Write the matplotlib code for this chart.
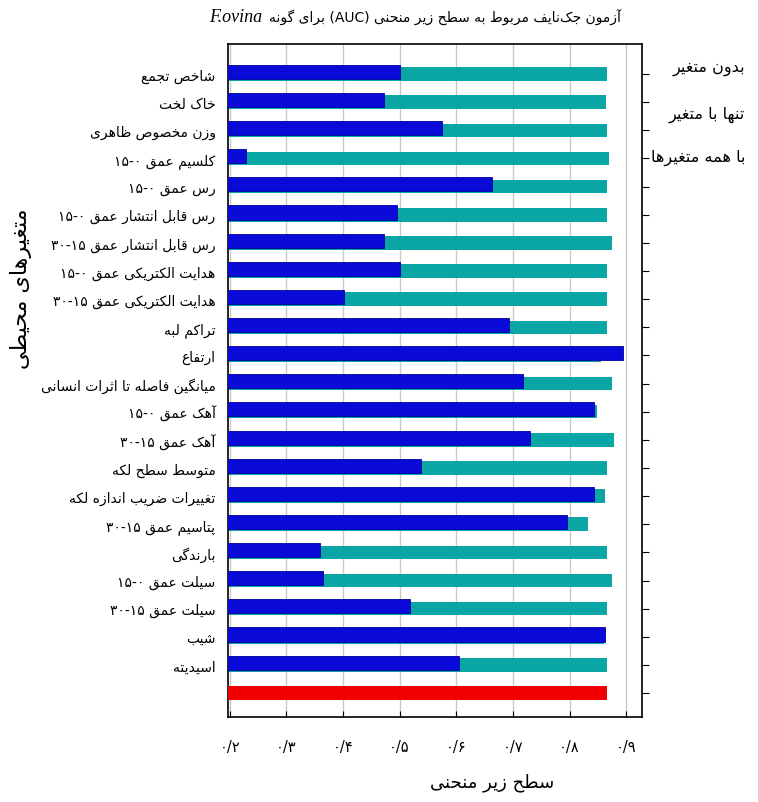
import matplotlib
matplotlib.use('Agg')
import matplotlib.pyplot as plt
import numpy as np
from matplotlib.offsetbox import TextArea, HPacker, AnchoredOffsetbox

# --- minimal Persian shaping + RTL ordering (matplotlib has no bidi support) ---
DUAL = {'ئ': 0xFE89, 'ب': 0xFE8F, 'ت': 0xFE95, 'ث': 0xFE99, 'ج': 0xFE9D, 'ح': 0xFEA1,
        'خ': 0xFEA5, 'س': 0xFEB1, 'ش': 0xFEB5, 'ص': 0xFEB9, 'ض': 0xFEBD, 'ط': 0xFEC1,
        'ظ': 0xFEC5, 'ع': 0xFEC9, 'غ': 0xFECD, 'ف': 0xFED1, 'ق': 0xFED5, 'ك': 0xFED9,
        'ل': 0xFEDD, 'م': 0xFEE1, 'ن': 0xFEE5, 'ه': 0xFEE9, 'ي': 0xFEF1, 'پ': 0xFB56,
        'چ': 0xFB7A, 'ک': 0xFB8E, 'گ': 0xFB92, 'ی': 0xFBFC}
RIGHT = {'آ': 0xFE81, 'أ': 0xFE83, 'ؤ': 0xFE85, 'إ': 0xFE87, 'ا': 0xFE8D, 'ة': 0xFE93,
         'د': 0xFEA9, 'ذ': 0xFEAB, 'ر': 0xFEAD, 'ز': 0xFEAF, 'و': 0xFEED, 'ى': 0xFEEF,
         'ژ': 0xFB8A}
LAMALEF = {'ا': 0xFEFB, 'آ': 0xFEF5, 'أ': 0xFEF7, 'إ': 0xFEF9}


def shape(s):
    out = []
    i = 0
    while i < len(s):
        c = s[i]
        prev = s[i - 1] if i > 0 else ''
        nxt = s[i + 1] if i + 1 < len(s) else ''
        p = prev in DUAL
        if c == 'ل' and nxt in LAMALEF:
            out.append(chr(LAMALEF[nxt] + (1 if p else 0)))
            i += 2
            continue
        if c in DUAL or c in RIGHT:
            base = DUAL.get(c, RIGHT.get(c))
            q = c in DUAL and (nxt in DUAL or nxt in RIGHT)
            out.append(chr(base + (3 if p and q else 2 if q else 1 if p else 0)))
        elif c != '\u200c':
            out.append(c)
        i += 1
    return ''.join(out)


def is_ltr(ch):
    return (ch.isascii() and ch.isalnum()) or '\u06f0' <= ch <= '\u06f9'


def fa(s):
    s = shape(s)
    runs = []
    for k, ch in enumerate(s):
        if is_ltr(ch):
            d = 'L'
        elif ch == '.' and 0 < k < len(s) - 1 and is_ltr(s[k - 1]) and is_ltr(s[k + 1]):
            d = 'L'
        else:
            d = 'R'
        if runs and runs[-1][0] == d:
            runs[-1][1] += ch
        else:
            runs.append([d, ch])
    mirror = {'(': ')', ')': '('}
    res = ''
    for d, txt in reversed(runs):
        if d == 'R':
            txt = ''.join(mirror.get(c, c) for c in reversed(txt))
        res += txt
    return res


# --- data ---
labels = ['شاخص تجمع', 'خاک لخت', 'وزن مخصوص ظاهری', 'کلسیم عمق ۰-۱۵', 'رس عمق ۰-۱۵',
          'رس قابل انتشار عمق ۰-۱۵', 'رس قابل انتشار عمق ۱۵-۳۰', 'هدایت الکتریکی عمق ۰-۱۵',
          'هدایت الکتریکی عمق ۱۵-۳۰', 'تراکم لبه', 'ارتفاع', 'میانگین فاصله تا اثرات انسانی',
          'آهک عمق ۰-۱۵', 'آهک عمق ۱۵-۳۰', 'متوسط سطح لکه', 'تغییرات ضریب اندازه لکه',
          'پتاسیم عمق ۱۵-۳۰', 'بارندگی', 'سیلت عمق ۰-۱۵', 'سیلت عمق ۱۵-۳۰', 'شیب', 'اسیدیته']
without_var = [0.867, 0.865, 0.867, 0.869, 0.867, 0.867, 0.875, 0.867, 0.867, 0.867, 0.855,
               0.875, 0.848, 0.879, 0.867, 0.862, 0.832, 0.867, 0.875, 0.867, 0.860, 0.867]
only_var = [0.500, 0.473, 0.574, 0.228, 0.663, 0.495, 0.472, 0.500, 0.402, 0.693, 0.895,
            0.718, 0.843, 0.730, 0.538, 0.843, 0.795, 0.359, 0.365, 0.518, 0.862, 0.605]
all_vars = 0.867
xticks = [0.2, 0.3, 0.4, 0.5, 0.6, 0.7, 0.8, 0.9]
xtick_labels = ['۰/۲', '۰/۳', '۰/۴', '۰/۵', '۰/۶', '۰/۷', '۰/۸', '۰/۹']
legend_labels = ['بدون متغیر', 'تنها با متغیر', 'با همه متغیرها']

plt.rcParams['font.family'] = ['DejaVu Sans']

fig = plt.figure(figsize=(7.58, 8.03), dpi=100)
ax = fig.add_axes([0.3008, 0.1059, 0.5462, 0.8381])

y = np.arange(len(labels))
ax.barh(y, without_var, height=0.48, color='#0aa5a5', zorder=2)
ax.barh(y - 0.08, only_var, height=0.5, color='#0a0ad8', edgecolor='#0000a0', linewidth=0.6, zorder=3)
ax.barh(len(labels), all_vars, height=0.48, color='#f00000', zorder=3)

ax.set_xlim(0.197, 0.928)
ax.set_ylim(len(labels) + 0.85, -1.07)
ax.set_xticks(xticks)
ax.set_xticklabels(xtick_labels, fontsize=10.5)
ax.tick_params(axis='x', direction='in', length=4, pad=16)
ax.set_yticks(list(y) + [len(labels)])
ax.set_yticklabels([fa(l) for l in labels] + [''], fontsize=10)
ax.tick_params(axis='y', left=False, right=True, labelleft=True, direction='out', length=5, pad=4)
ax.grid(axis='x', color='#c8c8c8', linewidth=1, zorder=0)
ax.set_axisbelow(True)
for s in ax.spines.values():
    s.set_linewidth(1.2)

fig.text(0.028, 0.64, fa('متغیرهای محیطی'), rotation=90, fontsize=16,
         ha='center', va='center')
fig.text(0.649, 0.025, fa('سطح زیر منحنی'), fontsize=13, ha='center', va='center')

for k, t in enumerate(legend_labels):
    fig.text(0.983, 1 - [68, 115, 158][k] / 803, fa(t), fontsize=11.5, ha='right', va='center')

title = HPacker(children=[TextArea('F.ovina', textprops=dict(fontsize=13, style='italic',
                                                              family='Liberation Serif')),
                          TextArea(fa('آزمون جک‌نایف مربوط به سطح زیر منحنی (AUC) برای گونه'),
                                   textprops=dict(fontsize=10))],
                align='baseline', pad=0, sep=5)
fig.add_artist(AnchoredOffsetbox(loc='center', child=title, frameon=False, pad=0,
                                 bbox_to_anchor=(0.548, 1 - 18 / 803),
                                 bbox_transform=fig.transFigure))

plt.savefig('out.png', dpi=100)
